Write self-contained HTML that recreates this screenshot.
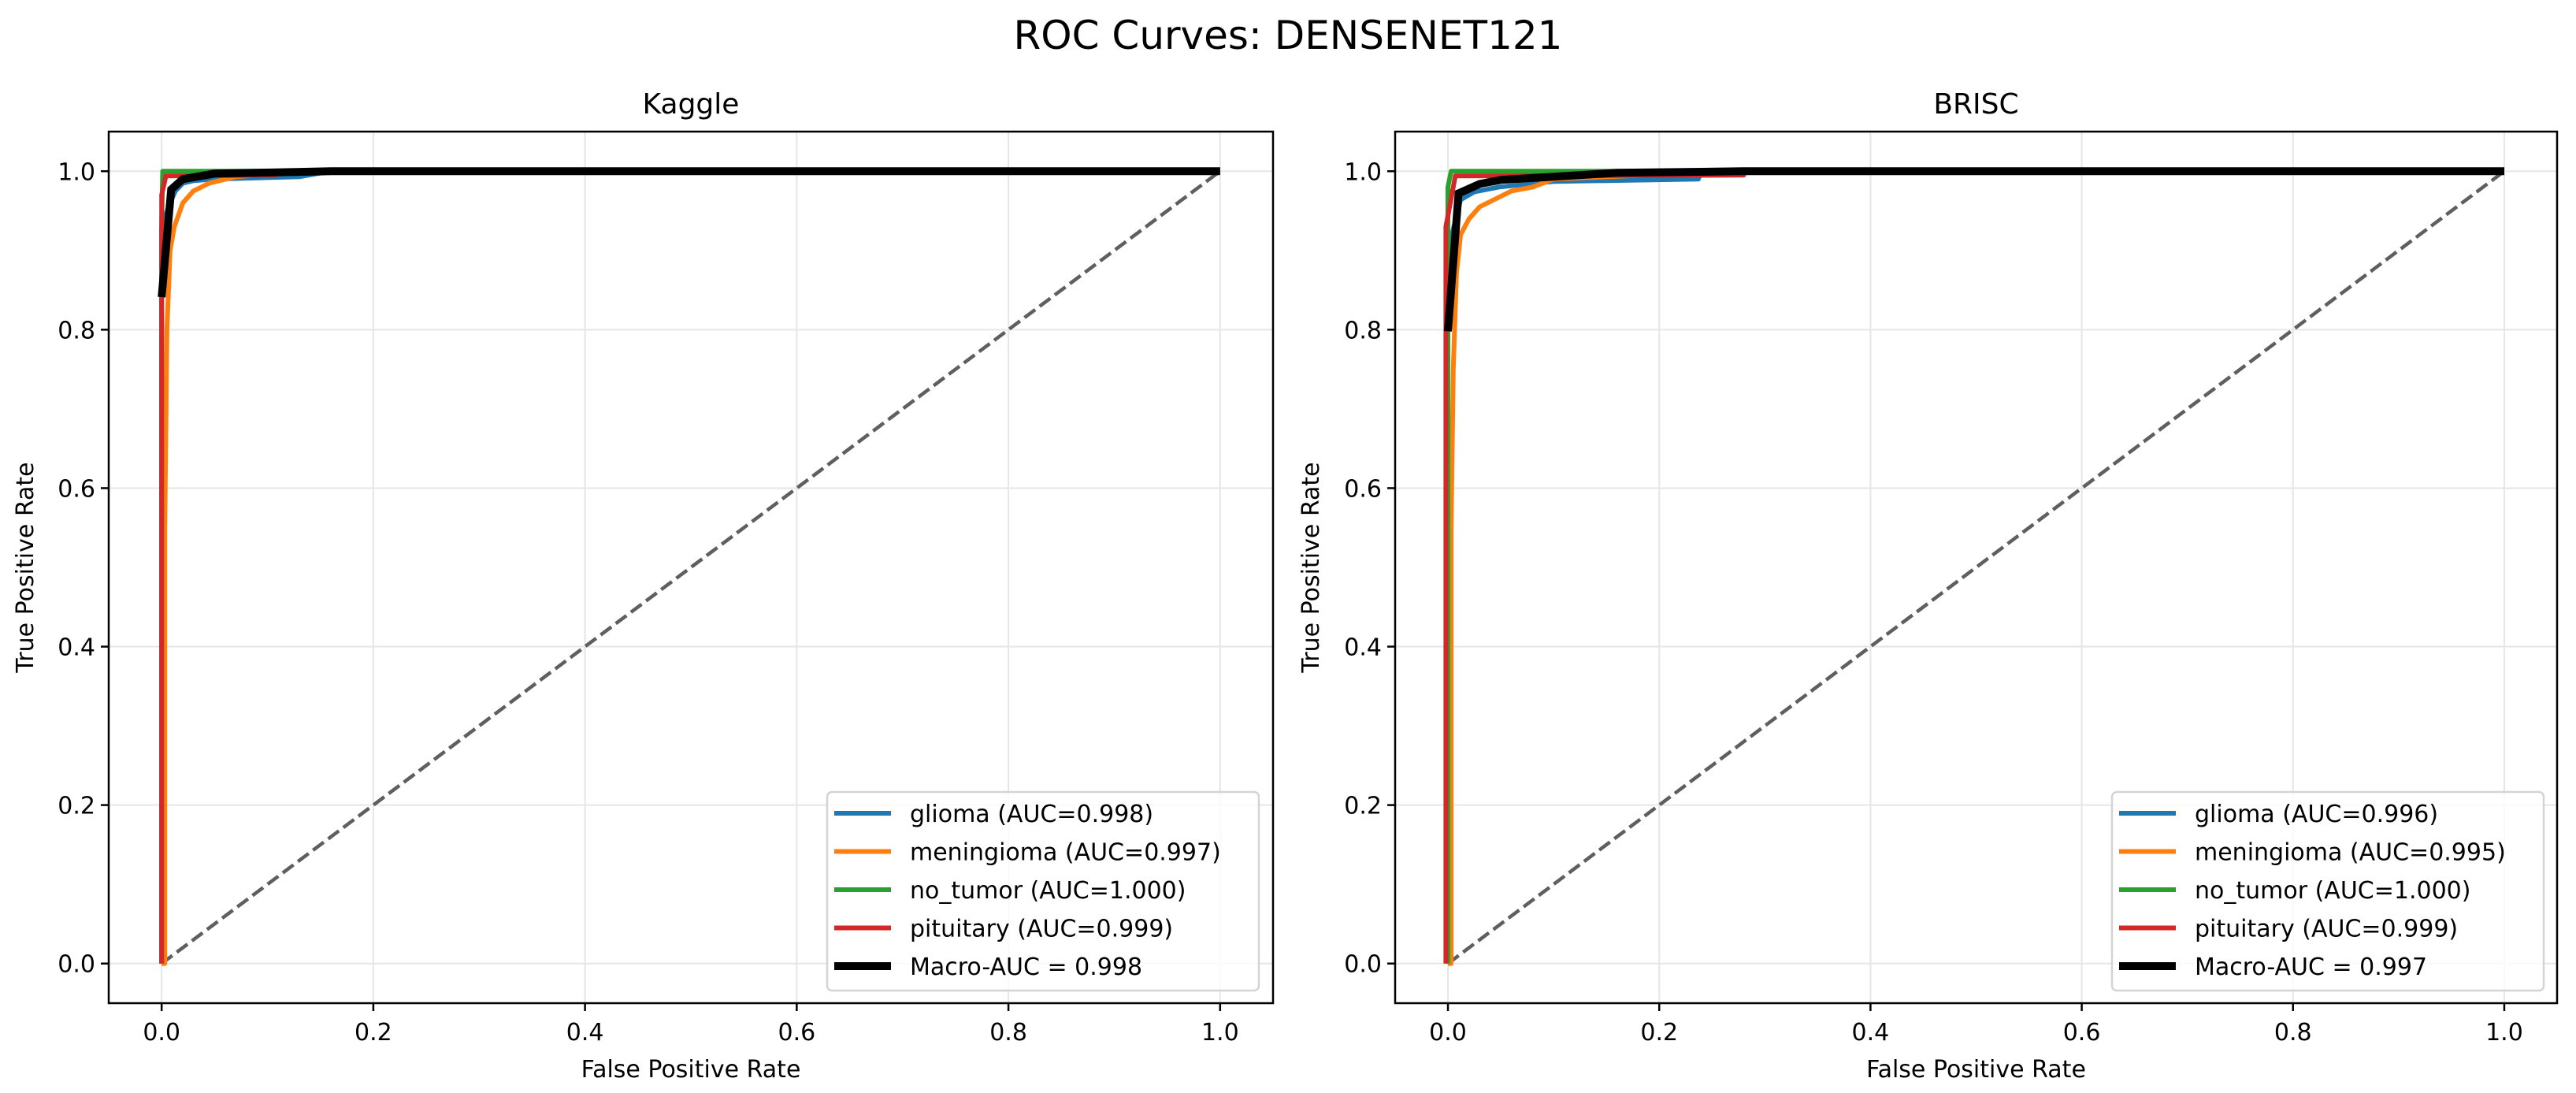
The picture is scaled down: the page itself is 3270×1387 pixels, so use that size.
<!DOCTYPE html>
<html><head><meta charset="utf-8"><style>
html,body{margin:0;padding:0;background:#fff;}
svg{display:block;font-family:"DejaVu Sans","Liberation Sans",sans-serif;}
</style></head><body>
<svg id="fig" width="3270" height="1387" viewBox="0 0 3270 1387" xmlns="http://www.w3.org/2000/svg">
<rect width="3270" height="1387" fill="#fff"/>
<text x="1635" y="62" font-size="50" text-anchor="middle">ROC Curves: DENSENET121</text>
</svg>
<script>
// ---- data ----
const ticks = [0, 0.2, 0.4, 0.6, 0.8, 1.0];
const tickLabels = ["0.0", "0.2", "0.4", "0.6", "0.8", "1.0"];
const classNames = ["glioma", "meningioma", "no_tumor", "pituitary"];
const kaggleAUC = ["0.998", "0.997", "1.000", "0.999"];
const kaggleMacro = "0.998";
const briscAUC = ["0.996", "0.995", "1.000", "0.999"];
const briscMacro = "0.997";

// Kaggle curves [fpr, tpr]
const kGliomaFpr = [0, 0, 0.008, 0.013, 0.02, 0.03, 0.05, 0.13, 0.16, 1];
const kGliomaTpr = [0, 0.93, 0.96, 0.975, 0.985, 0.988, 0.99, 0.993, 1.0, 1];
const kMenFpr = [0, 0.003, 0.003, 0.005, 0.008, 0.012, 0.02, 0.03, 0.045, 0.07, 0.1, 0.17, 1];
const kMenTpr = [0, 0, 0.55, 0.8, 0.9, 0.93, 0.96, 0.975, 0.985, 0.993, 0.996, 1.0, 1];
const kNoFpr = [0, 0, 0.001, 1];
const kNoTpr = [0, 0.93, 1.0, 1];
const kPitFpr = [0, 0, 0.004, 0.108, 0.11, 1];
const kPitTpr = [0, 0.97, 0.994, 0.995, 1.0, 1];
const kMacroFpr = [0, 0.009, 0.02, 0.05, 0.16, 1];
const kMacroTpr = [0.841, 0.977, 0.99, 0.997, 1.0, 1];

// BRISC curves
const bGliomaFpr = [0, 0, 0.012, 0.025, 0.048, 0.1, 0.237, 0.24, 1];
const bGliomaTpr = [0, 0.9, 0.964, 0.974, 0.98, 0.987, 0.99, 1.0, 1];
const bMenFpr = [0, 0.003, 0.003, 0.005, 0.008, 0.012, 0.02, 0.03, 0.045, 0.06, 0.08, 0.1, 0.15, 0.28, 1];
const bMenTpr = [0, 0, 0.55, 0.75, 0.87, 0.92, 0.94, 0.955, 0.965, 0.975, 0.98, 0.99, 0.993, 1.0, 1];
const bNoFpr = [0, 0, 0.003, 1];
const bNoTpr = [0, 0.98, 1.0, 1];
const bPitFpr = [-0.002, -0.002, 0.007, 0.28, 0.28, 1];
const bPitTpr = [0, 0.93, 0.994, 0.995, 1.0, 1];
const bMacroFpr = [0, 0.01, 0.03, 0.05, 0.1, 0.16, 0.28, 1];
const bMacroTpr = [0.798, 0.972, 0.984, 0.989, 0.993, 0.998, 1.0, 1];

const colors = ["#1f77b4", "#ff7f0e", "#2ca02c", "#d62728"];
const NS = "http://www.w3.org/2000/svg";
const svg = document.getElementById("fig");

function mk(tag, attrs, parent) {
  const e = document.createElementNS(NS, tag);
  for (const k in attrs) e.setAttribute(k, attrs[k]);
  (parent || svg).appendChild(e);
  return e;
}

function panel(cfg) {
  const g = mk("g", {});
  
  
  const L = cfg.left, R = cfg.right, T = 167, B = 1273;
  const x0 = L + (R - L) * 0.05 / 1.1, ux = (R - L) / 1.1;
  const y0 = B - (B - T) * 0.05 / 1.1, uy = (B - T) / 1.1;
  const sx = v => x0 + v * ux, sy = v => y0 - v * uy;
  ticks.forEach((t, i) => {
    const gx = mk("line", {x1: sx(t), x2: sx(t), y1: T, y2: B, stroke: "#e6e6e6", "stroke-width": 2}, g);
    
    
    const gy = mk("line", {x1: L, x2: R, y1: sy(t), y2: sy(t), stroke: "#e6e6e6", "stroke-width": 2}, g);
    
    
  });
  const d = mk("line", {x1: sx(0), y1: sy(0), x2: sx(1), y2: sy(1), stroke: "#5f5f5f", "stroke-width": 4.5, "stroke-dasharray": "17,7"}, g);
  
  
  cfg.curves.forEach((c, i) => {
    const pts = c[0].map((f, j) => sx(f).toFixed(1) + "," + sy(c[1][j]).toFixed(1)).join(" ");
    const p = mk("polyline", {points: pts, fill: "none", stroke: colors[i], "stroke-width": 6, "stroke-linejoin": "round"}, g);
    
    
  });
  const mp = cfg.macro[0].map((f, j) => sx(f).toFixed(1) + "," + sy(cfg.macro[1][j]).toFixed(1)).join(" ");
  const m = mk("polyline", {points: mp, fill: "none", stroke: "#000", "stroke-width": 10}, g);
  
  
  const fr = mk("rect", {x: L, y: T, width: R - L, height: B - T, fill: "none", stroke: "#000", "stroke-width": 2.5}, g);
  
  
  ticks.forEach((t, i) => {
    mk("line", {x1: sx(t), x2: sx(t), y1: B, y2: B + 10, stroke: "#000", "stroke-width": 2.5}, g);
    const xl = mk("text", {x: sx(t), y: B + 47, "font-size": 30, "text-anchor": "middle"}, g);
    xl.textContent = tickLabels[i];
    
    
    mk("line", {x1: L - 10, x2: L, y1: sy(t), y2: sy(t), stroke: "#000", "stroke-width": 2.5}, g);
    const yl = mk("text", {x: L - 17, y: sy(t) + 11, "font-size": 30, "text-anchor": "end"}, g);
    yl.textContent = tickLabels[i];
    
    
  });
  const title = mk("text", {x: (L + R) / 2, y: 144, "font-size": 36, "text-anchor": "middle"}, g);
  title.textContent = cfg.title;
  
  
  const xt = mk("text", {x: (L + R) / 2, y: 1367, "font-size": 30, "text-anchor": "middle"}, g);
  xt.textContent = "False Positive Rate";
  
  
  const yx = cfg.ylabelX, yy = (T + B) / 2;
  const yt = mk("text", {x: yx, y: yy, "font-size": 30, "text-anchor": "middle", transform: "rotate(-90 " + yx + " " + yy + ")"}, g);
  yt.textContent = "True Positive Rate";
  
  
  const lg = mk("g", {}, g);
  
  
  const lx = cfg.legendX;
  mk("rect", {x: lx, y: 1005, width: 548, height: 252, rx: 6, fill: "#fff", "fill-opacity": 0.8, stroke: "#d4d4d4", "stroke-width": 2.5}, lg);
  const labels = classNames.map((n, i) => n + " (AUC=" + cfg.auc[i] + ")").concat(["Macro-AUC = " + cfg.macroAuc]);
  labels.forEach((s, i) => {
    const y = 1032 + i * 48.5;
    const e = mk("g", {}, lg);
    
    
    mk("line", {x1: lx + 9, x2: lx + 81, y1: y, y2: y, stroke: i < 4 ? colors[i] : "#000", "stroke-width": i < 4 ? 6 : 10}, e);
    const t = mk("text", {x: lx + 105, y: y + 11, "font-size": 30}, e);
    t.textContent = s;
  });
}

panel({name: "kaggle", title: "Kaggle", left: 138, right: 1616, ylabelX: 42, legendX: 1050,
  auc: kaggleAUC, macroAuc: kaggleMacro,
  curves: [[kGliomaFpr, kGliomaTpr], [kMenFpr, kMenTpr], [kNoFpr, kNoTpr], [kPitFpr, kPitTpr]],
  macro: [kMacroFpr, kMacroTpr]});
panel({name: "brisc", title: "BRISC", left: 1771, right: 3246, ylabelX: 1674, legendX: 2681,
  auc: briscAUC, macroAuc: briscMacro,
  curves: [[bGliomaFpr, bGliomaTpr], [bMenFpr, bMenTpr], [bNoFpr, bNoTpr], [bPitFpr, bPitTpr]],
  macro: [bMacroFpr, bMacroTpr]});
</script>
</body></html>
